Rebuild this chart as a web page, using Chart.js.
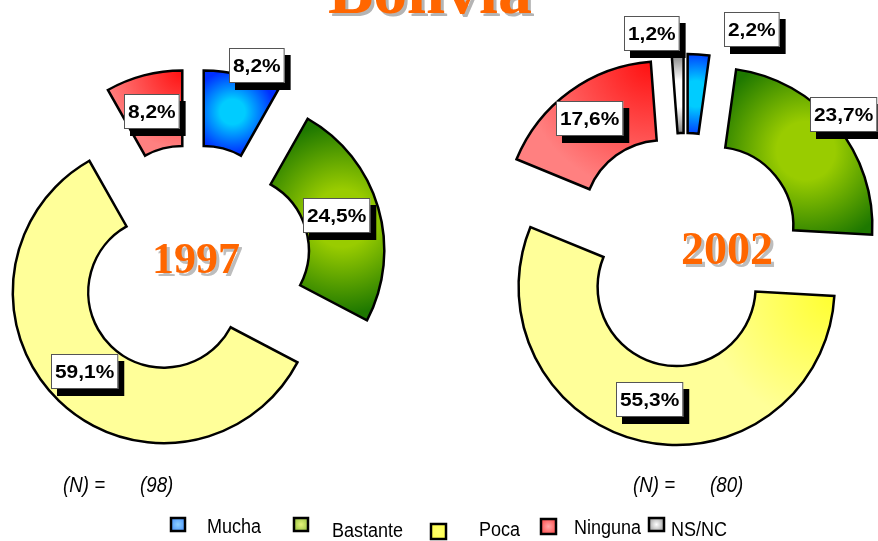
<!DOCTYPE html>
<html>
<head>
<meta charset="utf-8">
<script src="https://cdn.jsdelivr.net/npm/chart.js@4/dist/chart.umd.min.js"></script>
<style>
html,body{margin:0;padding:0;background:#fff;width:878px;height:541px;overflow:hidden;}
body{position:relative;}
canvas{position:absolute;left:0;top:0;}
</style>
</head>
<body>
<canvas id="c1" width="878" height="541"></canvas>
<canvas id="c2" width="878" height="541"></canvas>
<script>
// ---------- data ----------
const categories = ['Mucha', 'Bastante', 'Poca', 'Ninguna', 'NS/NC'];
const values1997 = [8.2, 24.5, 59.1, 8.2, 0];
const values2002 = [2.2, 23.7, 55.3, 17.6, 1.2];
const yearLabels = ['1997', '2002'];
const sampleSizes = ['(98)', '(80)'];
const nLabel = '(N) =';
const titleText = 'Bolivia';

// ---------- styles ----------
const sliceStyles = [
  {type: 'center', light: '#00CCFF', dark: '#0030FF'},
  {type: 'center', light: '#99CC00', dark: '#1E7800'},
  {type: 'corner', atEnd: false, pale: '#FFFF99'},
  {type: 'corner', atEnd: true, pale: '#FF8080'},
  {type: 'center', light: '#FFFFFF', dark: '#6E6E6E'}
];
const legendColors = [
  ['#8FD0FF', '#2F80FF'],
  ['#E4F47A', '#7DB030'],
  ['#FFFF70', '#FFFF40'],
  ['#FFA8A8', '#FF3030'],
  ['#FFFFFF', '#7A7A7A']
];
const legendLayout = [
  {x: 170, y: 517, w: 16, h: 15, tx: 207, ty: 527},
  {x: 293, y: 517, w: 16, h: 15, tx: 332, ty: 531},
  {x: 430, y: 523, w: 17, h: 17, tx: 479, ty: 530},
  {x: 540, y: 518, w: 17, h: 17, tx: 574, ty: 528},
  {x: 648, y: 517, w: 17, h: 15, tx: 671, ty: 530}
];

function fmtPct(v) { return v.toFixed(1).replace('.', ',') + '%'; }

// explode slices by shifting each arc's centre along its mid angle
const explodePlugin = {
  id: 'explode',
  afterDatasetUpdate(chart, args, opts) {
    const ca = chart.chartArea;
    const cx = (ca.left + ca.right) / 2, cy = (ca.top + ca.bottom) / 2;
    args.meta.data.forEach(arc => {
      const mid = (arc.startAngle + arc.endAngle) / 2;
      arc.x = cx + opts.dist * Math.cos(mid);
      arc.y = cy + opts.dist * Math.sin(mid);
    });
  }
};

// gradient fills computed from the arc geometry
const fillPlugin = {
  id: 'sliceFill',
  beforeDatasetsDraw(chart, args, opts) {
    const ctx = chart.ctx;
    const meta = chart.getDatasetMeta(0);
    meta.data.forEach((arc, i) => {
      const st = sliceStyles[i];
      const mid = (arc.startAngle + arc.endAngle) / 2;
      const rm = (arc.innerRadius + arc.outerRadius) / 2;
      let g;
      if (st.type === 'center') {
        const gx = arc.x + rm * Math.cos(mid), gy = arc.y + rm * Math.sin(mid);
        const len = rm * (arc.endAngle - arc.startAngle);
        const th = arc.outerRadius - arc.innerRadius;
        const rad = Math.max(len, th) * 0.55;
        g = ctx.createRadialGradient(gx, gy, 0, gx, gy, rad);
        g.addColorStop(0, st.light);
        g.addColorStop(0.3, st.light);
        g.addColorStop(1, st.dark);
      } else {
        const a = st.atEnd ? arc.endAngle : arc.startAngle;
        const gx = arc.x + arc.outerRadius * Math.cos(a), gy = arc.y + arc.outerRadius * Math.sin(a);
        const outerLen = arc.outerRadius * (arc.endAngle - arc.startAngle);
        const rad = Math.min(outerLen * 1.0, 130);
        g = ctx.createRadialGradient(gx, gy, 0, gx, gy, rad);
        g.addColorStop(0, opts.bright[i] || st.pale);
        g.addColorStop(1, st.pale);
      }
      arc.options = Object.assign({}, arc.options, {backgroundColor: g});
    });
  }
};

// boxed percentage labels
const labelPlugin = {
  id: 'sliceLabels',
  afterDatasetsDraw(chart, args, opts) {
    const ctx = chart.ctx;
    const meta = chart.getDatasetMeta(0);
    const data = chart.data.datasets[0].data;
    meta.data.forEach((arc, i) => {
      if (!data[i]) return;
      const mid = (arc.startAngle + arc.endAngle) / 2;
      const rm = (arc.innerRadius + arc.outerRadius) / 2;
      const nx = opts.nudges[i][0], ny = opts.nudges[i][1];
      const x = arc.x + rm * Math.cos(mid) + nx;
      const y = arc.y + rm * Math.sin(mid) + ny;
      const txt = fmtPct(data[i]);
      ctx.save();
      ctx.font = 'bold 19px "Liberation Sans", Arial, sans-serif';
      const sx = 1.1;
      const tw = ctx.measureText(txt).width * sx;
      const bw = tw + 8, bh = 35;
      const bx = Math.round(x - bw / 2), by = Math.round(y - bh / 2);
      ctx.fillStyle = '#000';
      ctx.fillRect(bx + 6, by + 7, bw, bh);
      ctx.fillStyle = '#fff';
      ctx.fillRect(bx, by, bw, bh);
      ctx.strokeStyle = '#555';
      ctx.lineWidth = 1;
      ctx.strokeRect(bx + 0.5, by + 0.5, bw - 1, bh - 1);
      ctx.fillStyle = '#000';
      ctx.textAlign = 'center';
      ctx.textBaseline = 'middle';
      ctx.translate(bx + bw / 2, by + bh / 2 + 1);
      ctx.scale(sx, 1);
      ctx.fillText(txt, 0, 0);
      ctx.restore();
    });
  }
};

function shadowText(ctx, txt, x, y, font, color, shadow, off) {
  ctx.font = font;
  ctx.textAlign = 'center';
  ctx.textBaseline = 'alphabetic';
  ctx.fillStyle = shadow;
  ctx.fillText(txt, x + off, y + off);
  ctx.fillStyle = color;
  ctx.fillText(txt, x, y);
}

function condensedText(ctx, txt, x, y, font, sx, baseline) {
  ctx.save();
  ctx.font = font;
  ctx.textAlign = 'left';
  ctx.textBaseline = baseline;
  ctx.fillStyle = '#000';
  ctx.translate(x, y);
  ctx.scale(sx, 1);
  ctx.fillText(txt, 0, 0);
  ctx.restore();
}

// texts: title, year, sample size, legend
const textPlugin = {
  id: 'texts',
  afterDraw(chart, args, opts) {
    const ctx = chart.ctx;
    ctx.save();
    if (opts.title) {
      shadowText(ctx, titleText, 430, 13, 'bold 68px "Liberation Serif", "Times New Roman", serif', '#FF6600', '#B4B4B4', 3);
    }
    shadowText(ctx, yearLabels[opts.idx], opts.yearX, opts.yearY, 'bold ' + opts.yearSize + 'px "Liberation Serif", "Times New Roman", serif', '#FF6600', '#BDBDBD', 3);
    condensedText(ctx, nLabel, opts.nX, 492, 'italic 22px "Liberation Sans", Arial, sans-serif', 0.85, 'alphabetic');
    condensedText(ctx, sampleSizes[opts.idx], opts.nX + 77, 492, 'italic 22px "Liberation Sans", Arial, sans-serif', 0.85, 'alphabetic');
    if (opts.legend) {
      categories.forEach((c, i) => {
        const L = legendLayout[i];
        const g = ctx.createRadialGradient(L.x + L.w / 2, L.y + L.h / 2, 0, L.x + L.w / 2, L.y + L.h / 2, L.w * 0.7);
        g.addColorStop(0, legendColors[i][0]);
        g.addColorStop(1, legendColors[i][1]);
        ctx.fillStyle = g;
        ctx.fillRect(L.x, L.y, L.w, L.h);
        ctx.strokeStyle = '#000';
        ctx.lineWidth = 2.5;
        ctx.strokeRect(L.x + 1, L.y + 1, L.w - 2, L.h - 2);
        condensedText(ctx, c, L.tx, L.ty, '20px "Liberation Sans", Arial, sans-serif', 0.9, 'middle');
      });
    }
    ctx.restore();
  }
};

function makeChart(id, values, cfg) {
  return new Chart(document.getElementById(id), {
    type: 'doughnut',
    data: {
      labels: categories,
      datasets: [{
        data: values,
        backgroundColor: sliceStyles.map(s => s.pale || s.light),
        borderColor: '#000',
        borderWidth: 2.5,
        borderJoinStyle: 'miter',
        borderAlign: 'center',
        clip: false
      }]
    },
    options: {
      responsive: false,
      animation: false,
      events: [],
      radius: cfg.radius,
      cutout: '50%',
      layout: {padding: cfg.padding},
      plugins: {
        legend: {display: false},
        tooltip: {enabled: false},
        explode: {dist: cfg.dist},
        sliceFill: {bright: cfg.bright},
        sliceLabels: {nudges: cfg.nudges},
        texts: cfg.texts
      }
    },
    plugins: [explodePlugin, fillPlugin, labelPlugin, textPlugin]
  });
}

makeChart('c1', values1997, {
  radius: 151,
  dist: 42,
  padding: {left: 0, top: 0, right: 492, bottom: 17},
  bright: [null, null, '#FFFF99', '#FF1010', null],
  nudges: [[24, -46], [-5, -3], [0, -2], [-2, 0], [0, 0]],
  texts: {idx: 0, title: true, legend: false, yearX: 196, yearY: 273, yearSize: 44, nX: 63}
});

makeChart('c2', values2002, {
  radius: 158,
  dist: 38,
  padding: {left: 492, top: 0, right: 0, bottom: 41},
  bright: [null, null, '#FFFF30', '#FF1010', null],
  nudges: [[56, -64], [38, -36], [-1, -3], [-3, -5], [-27, -60]],
  texts: {idx: 1, title: false, legend: true, yearX: 727, yearY: 264, yearSize: 46, nX: 633}
});
</script>
</body>
</html>
